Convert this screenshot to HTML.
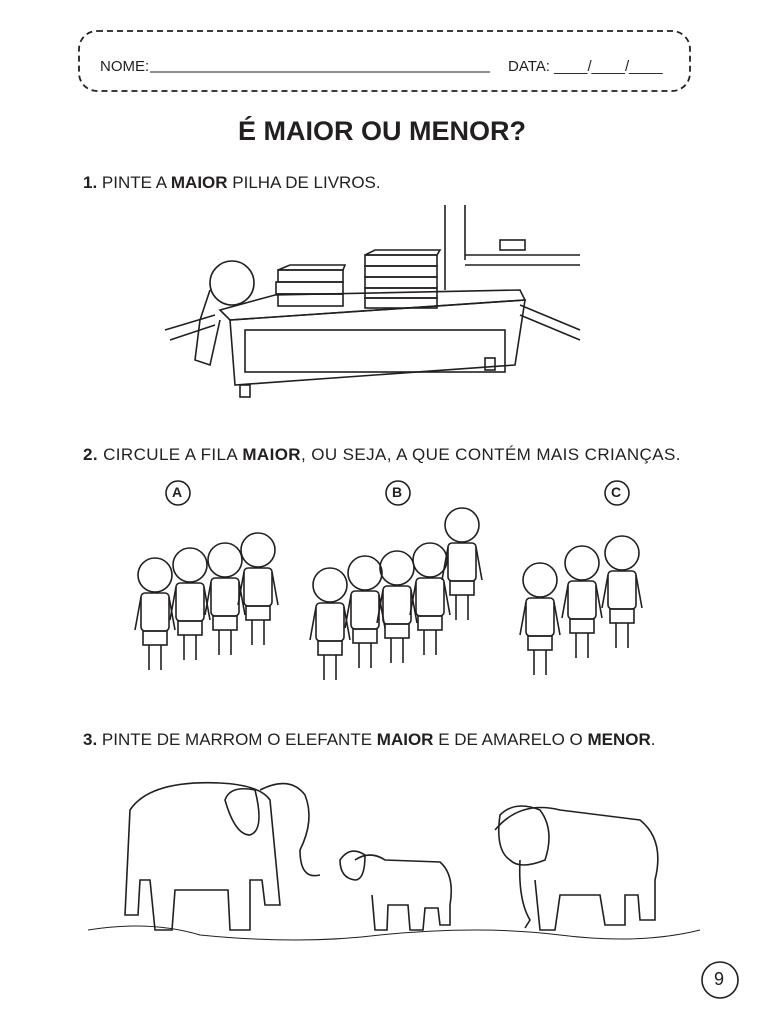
<!DOCTYPE html>
<html><head><meta charset="utf-8"><style>
body{margin:0;background:#fff;}
.pg{position:relative;width:764px;height:1024px;overflow:hidden;font-family:"Liberation Sans Narrow","Liberation Sans",sans-serif;color:#231f20;}
.t{position:absolute;white-space:nowrap;}
svg{position:absolute;left:0;top:0;}
</style></head><body><div class="pg">
<svg width="764" height="1024" viewBox="0 0 764 1024" fill="none" stroke="#231f20" stroke-width="1.6">
<defs>
<g id="k">
<circle cx="0" cy="0" r="17"/><rect x="-14" y="18" width="28" height="38" rx="4"/><rect x="-12" y="56" width="24" height="14"/><line x1="-6" y1="70" x2="-6" y2="95"/><line x1="6" y1="70" x2="6" y2="95"/><line x1="-14" y1="22" x2="-20" y2="55"/><line x1="14" y1="22" x2="20" y2="55"/>
</g>
</defs>
<rect x="79" y="31" width="611" height="60" rx="18" stroke-dasharray="6 4" stroke-width="1.8"/>
<line x1="150" y1="72" x2="490" y2="72" stroke-width="1"/>
<line x1="445" y1="205" x2="445" y2="290"/><line x1="465" y1="205" x2="465" y2="260"/>
<polyline points="465,255 580,255"/><polyline points="465,265 580,265"/>
<rect x="500" y="240" width="25" height="10"/>
<line x1="165" y1="330" x2="215" y2="315"/><line x1="170" y1="340" x2="215" y2="325"/>
<line x1="520" y1="305" x2="580" y2="330"/><line x1="520" y1="315" x2="580" y2="340"/>
<polygon points="220,310 275,295 520,290 525,300 230,320"/>
<polygon points="230,320 525,300 515,365 235,385"/>
<rect x="245" y="330" width="260" height="42"/>
<rect x="240" y="385" width="10" height="12"/><rect x="485" y="358" width="10" height="12"/>
<g><rect x="278" y="270" width="65" height="12"/><rect x="276" y="282" width="67" height="12"/><rect x="278" y="294" width="65" height="12"/><polygon points="278,270 290,265 345,265 343,270"/></g>
<g><rect x="365" y="255" width="72" height="11"/><rect x="365" y="266" width="72" height="11"/><rect x="365" y="277" width="72" height="11"/><rect x="365" y="288" width="72" height="10"/><rect x="365" y="298" width="72" height="10"/><polygon points="365,255 375,250 440,250 437,255"/></g>
<circle cx="232" cy="283" r="22"/><path d="M210 290 L200 320 L195 360 L210 365 L220 320"/>
<circle cx="178" cy="493" r="12"/><circle cx="398" cy="493" r="12"/><circle cx="617" cy="493" r="12"/>
<use href="#k" x="155" y="575"/><use href="#k" x="190" y="565"/><use href="#k" x="225" y="560"/><use href="#k" x="258" y="550"/>
<use href="#k" x="330" y="585"/><use href="#k" x="365" y="573"/><use href="#k" x="397" y="568"/><use href="#k" x="430" y="560"/><use href="#k" x="462" y="525"/>
<use href="#k" x="540" y="580"/><use href="#k" x="582" y="563"/><use href="#k" x="622" y="553"/>
<path d="M130 810 Q150 780 220 783 Q260 785 270 800 L280 905 L265 905 L262 880 L250 880 L250 930 L230 930 L228 890 L175 890 L172 930 L155 930 L150 880 L140 880 L138 915 L125 915 Z"/>
<path d="M260 790 Q290 775 305 795 Q315 820 300 850 Q300 880 320 875" />
<path d="M225 800 Q230 785 255 790 Q265 830 250 835 Q235 835 225 800 Z"/>
<path d="M495 830 Q520 800 560 810 L640 820 Q665 840 655 880 L655 920 L640 920 L638 895 L625 895 L625 925 L605 925 L600 895 L560 895 L555 930 L540 930 L535 880"/>
<path d="M500 815 Q515 800 540 810 Q555 830 545 860 Q520 870 510 860 Q495 850 500 815 Z"/>
<path d="M520 860 Q518 900 530 920 L525 928"/>
<path d="M355 860 Q370 850 385 860 L440 862 Q455 875 450 905 L450 925 L440 925 L438 908 L425 908 L423 930 L410 930 L408 905 L388 905 L387 930 L375 930 L372 895"/>
<path d="M340 860 Q350 845 365 855 Q365 880 355 880 Q340 878 340 860 Z"/>
<path d="M88 930 Q150 920 200 935 Q300 945 380 935 Q480 925 560 935 Q640 945 700 930" stroke-width="1"/>
<circle cx="720" cy="980" r="18"/>
</svg>
<div class="t" style="left:100px;top:58px;font-size:15px;">NOME:</div>
<div class="t" style="left:508px;top:58px;font-size:15px;">DATA: ____/____/____</div>
<div class="t" style="left:0;width:764px;text-align:center;top:116px;font-size:27px;font-weight:bold;">É MAIOR OU MENOR?</div>
<div class="t" style="left:83px;top:173px;font-size:17px;"><b>1.</b> PINTE A <b>MAIOR</b> PILHA DE LIVROS.</div>
<div class="t" style="left:83px;top:445px;font-size:17px;letter-spacing:0.4px;"><b>2.</b> CIRCULE A FILA <b>MAIOR</b>, OU SEJA, A QUE CONTÉM MAIS CRIANÇAS.</div>
<div class="t" style="left:83px;top:730px;font-size:17px;"><b>3.</b> PINTE DE MARROM O ELEFANTE <b>MAIOR</b> E DE AMARELO O <b>MENOR</b>.</div>
<div class="t" style="left:172px;top:484px;font-size:14px;font-weight:bold;">A</div>
<div class="t" style="left:392px;top:484px;font-size:14px;font-weight:bold;">B</div>
<div class="t" style="left:611px;top:484px;font-size:14px;font-weight:bold;">C</div>
<div class="t" style="left:714px;top:969px;font-size:18px;">9</div>
</div></body></html>
